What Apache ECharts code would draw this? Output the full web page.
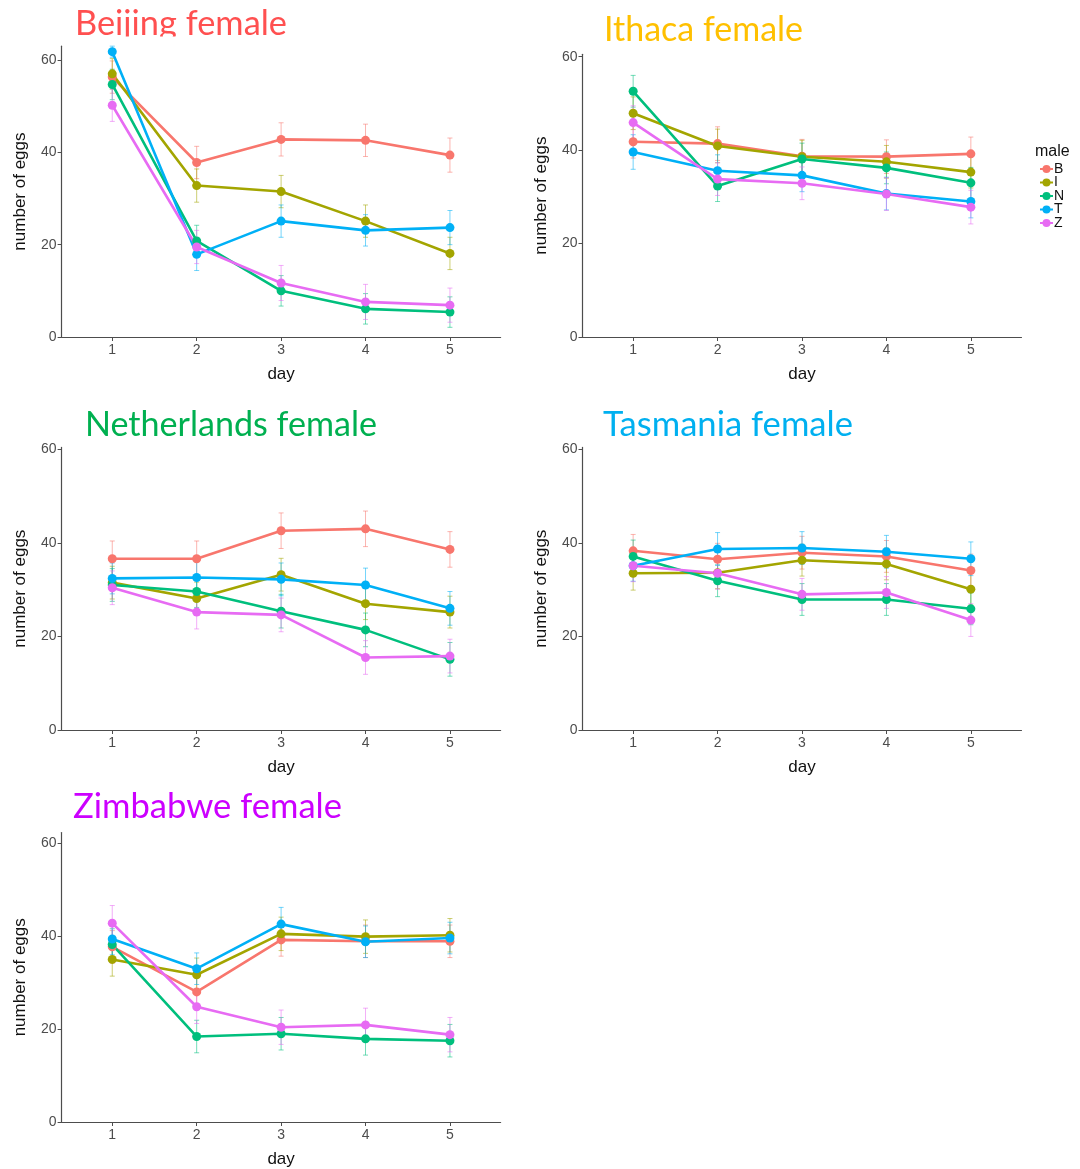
<!DOCTYPE html>
<html><head><meta charset="utf-8">
<script src="https://cdn.jsdelivr.net/npm/echarts@6/dist/echarts.min.js"></script>
<style>html,body{margin:0;padding:0;background:#fff}#c{width:1080px;height:1169px}</style>
</head><body><div id="c"></div>
<script>
// ---------- data ----------
const days = [1, 2, 3, 4, 5];
const males = ['B', 'I', 'N', 'T', 'Z'];
const maleColors = ['#F8766D', '#A3A500', '#00BF7D', '#00B0F6', '#E76BF3'];
const panelTitles = ['Beijing female', 'Ithaca female', 'Netherlands female', 'Tasmania female', 'Zimbabwe female'];
const titleColors = ['#FF5050', '#FFC000', '#00B050', '#00B0F0', '#CC00FF'];
const yTickValues = [0, 20, 40, 60];
const xTickValues = [1, 2, 3, 4, 5];
const yAxisMax = [63, 60.5, 60.4, 60.4, 62.3];

// mean number of eggs, rows = male B, I, N, T, Z ; columns = day 1..5
const beijingMeans = [
  [56.3, 37.8, 42.8, 42.6, 39.4],
  [57.0, 32.8, 31.5, 25.1, 18.1],
  [54.7, 20.8, 10.0, 6.1, 5.4],
  [61.8, 17.9, 25.1, 23.1, 23.7],
  [50.2, 19.5, 11.7, 7.6, 6.9]
];
const beijingErrors = [
  [3.5, 3.5, 3.6, 3.5, 3.7],
  [3.3, 3.6, 3.5, 3.5, 3.5],
  [3.3, 3.4, 3.3, 3.3, 3.3],
  [1.2, 3.5, 3.5, 3.4, 3.7],
  [3.5, 3.6, 3.8, 3.8, 3.7]
];
const ithacaMeans = [
  [41.8, 41.4, 38.7, 38.6, 39.2],
  [47.9, 40.9, 38.6, 37.5, 35.3],
  [52.6, 32.3, 38.1, 36.2, 33.0],
  [39.6, 35.6, 34.6, 30.7, 29.0],
  [45.9, 33.8, 32.9, 30.6, 27.8]
];
const ithacaErrors = [
  [3.5, 3.6, 3.6, 3.6, 3.6],
  [3.5, 3.6, 3.5, 3.5, 3.4],
  [3.4, 3.3, 3.4, 3.4, 3.3],
  [3.7, 3.4, 3.5, 3.5, 3.5],
  [3.6, 3.5, 3.5, 3.5, 3.6]
];
const netherlandsMeans = [
  [36.6, 36.6, 42.6, 43.0, 38.6],
  [31.5, 28.1, 33.2, 27.0, 25.2],
  [31.0, 29.6, 25.4, 21.4, 15.1],
  [32.4, 32.6, 32.2, 31.0, 26.0],
  [30.4, 25.2, 24.6, 15.5, 15.8]
];
const netherlandsErrors = [
  [3.8, 3.8, 3.8, 3.8, 3.8],
  [3.5, 3.5, 3.5, 3.4, 3.4],
  [3.5, 3.4, 3.6, 3.6, 3.6],
  [3.3, 3.4, 3.5, 3.6, 3.6],
  [3.6, 3.6, 3.6, 3.6, 3.6]
];
const tasmaniaMeans = [
  [38.3, 36.5, 37.9, 37.1, 34.1],
  [33.5, 33.6, 36.3, 35.5, 30.1],
  [37.1, 31.9, 27.9, 27.9, 25.9],
  [35.1, 38.7, 38.9, 38.1, 36.6],
  [35.1, 33.5, 29.0, 29.4, 23.5]
];
const tasmaniaErrors = [
  [3.5, 3.4, 3.5, 3.4, 3.5],
  [3.6, 3.4, 3.4, 3.4, 3.4],
  [3.5, 3.4, 3.4, 3.4, 3.4],
  [3.3, 3.5, 3.5, 3.5, 3.6],
  [3.4, 3.4, 3.4, 3.4, 3.5]
];
const zimbabweMeans = [
  [37.7, 28.0, 39.2, 38.9, 38.9],
  [35.0, 31.7, 40.5, 39.9, 40.2],
  [38.2, 18.4, 19.0, 17.9, 17.5],
  [39.4, 33.0, 42.6, 38.8, 39.6],
  [42.8, 24.8, 20.4, 20.9, 18.8]
];
const zimbabweErrors = [
  [3.5, 3.5, 3.5, 3.5, 3.5],
  [3.6, 3.6, 3.6, 3.6, 3.6],
  [3.4, 3.5, 3.5, 3.5, 3.5],
  [3.4, 3.4, 3.6, 3.4, 3.4],
  [3.8, 3.6, 3.7, 3.6, 3.7]
];

// ---------- build ----------
const panelMeans = [beijingMeans, ithacaMeans, netherlandsMeans, tasmaniaMeans, zimbabweMeans];
const panelErrors = [beijingErrors, ithacaErrors, netherlandsErrors, tasmaniaErrors, zimbabweErrors];

const LEFT_X = 61.6, RIGHT_X = 582.5, PW = 439;
const panelGeom = [
  { left: LEFT_X, zero: 337, h60: 277 },
  { left: RIGHT_X, zero: 337, h60: 280.3 },
  { left: LEFT_X, zero: 730, h60: 280.7 },
  { left: RIGHT_X, zero: 730, h60: 280.7 },
  { left: LEFT_X, zero: 1122.7, h60: 279.4 }
];
const titlePos = [
  { x: 75, y: 24, w: 212 },
  { x: 604, y: 30.5, w: 199 },
  { x: 85, y: 425.5, w: 292 },
  { x: 603, y: 425.5, w: 250 },
  { x: 73, y: 807, w: 269 }
];

const grids = [], xAxes = [], yAxes = [], series = [], graphics = [];
const axisCol = '#4D4D4D';
const FONT = '"Liberation Sans", Arial, sans-serif';

panelGeom.forEach((g, p) => {
  const height = g.h60 * yAxisMax[p] / 60;
  grids.push({ left: g.left, top: g.zero - height, width: PW, height: height, containLabel: false });
  xAxes.push({
    type: 'value', gridIndex: p, min: 0.4, max: 5.6,
    name: 'day', nameLocation: 'middle', nameGap: 29,
    nameTextStyle: { fontFamily: FONT, fontSize: 17, color: '#111' },
    axisLine: { show: true, lineStyle: { color: axisCol, width: 1.2 } },
    axisTick: { show: true, length: 4, customValues: xTickValues, lineStyle: { color: axisCol } },
    axisLabel: { customValues: xTickValues, fontFamily: FONT, fontSize: 14, color: axisCol, margin: 6 },
    splitLine: { show: false }
  });
  yAxes.push({
    type: 'value', gridIndex: p, min: 0, max: yAxisMax[p],
    name: 'number of eggs', nameLocation: 'middle', nameGap: 33, nameRotate: 90,
    nameTextStyle: { fontFamily: FONT, fontSize: 17, color: '#111' },
    axisLine: { show: true, lineStyle: { color: axisCol, width: 1.2 } },
    axisTick: { show: true, length: 4, customValues: yTickValues, lineStyle: { color: axisCol } },
    axisLabel: { customValues: yTickValues, fontFamily: FONT, fontSize: 14, color: axisCol, margin: 5 },
    splitLine: { show: false }
  });

  males.forEach((m, k) => {
    const means = panelMeans[p][k];
    const errs = panelErrors[p][k];
    const col = maleColors[k];
    series.push({
      type: 'custom', name: m + '-err', xAxisIndex: p, yAxisIndex: p, z: 2,
      data: days.map((d, i) => [d, means[i], errs[i]]),
      encode: { x: 0, y: 1 },
      silent: true,
      renderItem: function (params, api) {
        const x = api.value(0), v = api.value(1), e = api.value(2);
        const t = api.coord([x, v + e]);
        const b = api.coord([x, v - e]);
        const hw = 2.5;
        const st = { stroke: col, lineWidth: 1, opacity: 0.55 };
        return {
          type: 'group', children: [
            { type: 'line', shape: { x1: t[0], y1: t[1], x2: b[0], y2: b[1] }, style: st },
            { type: 'line', shape: { x1: t[0] - hw, y1: t[1], x2: t[0] + hw, y2: t[1] }, style: st },
            { type: 'line', shape: { x1: b[0] - hw, y1: b[1], x2: b[0] + hw, y2: b[1] }, style: st }
          ]
        };
      }
    });
  });
  males.forEach((m, k) => {
    const means = panelMeans[p][k];
    series.push({
      type: 'line', name: m, xAxisIndex: p, yAxisIndex: p, z: 3,
      data: days.map((d, i) => [d, means[i]]),
      symbol: 'circle', symbolSize: 9, showSymbol: true,
      lineStyle: { width: 2.6, color: maleColors[k] },
      itemStyle: { color: maleColors[k] },
      emphasis: { disabled: true }
    });
  });
});

// titles, scaled horizontally to match measured widths
const ctx = document.createElement('canvas').getContext('2d');
const titleFont = '34px Lato, "Open Sans", sans-serif';
ctx.font = titleFont;
panelTitles.forEach((t, p) => {
  const w = ctx.measureText(t).width || titlePos[p].w;
  graphics.push({
    type: 'text', x: titlePos[p].x, y: titlePos[p].y, scaleX: titlePos[p].w / w, z: 0,
    style: { text: t, font: titleFont, fill: titleColors[p], align: 'left', verticalAlign: 'middle' }
  });
});
// the Beijing title is cut off by the plot panel in the original
graphics.push({ type: 'rect', z: 1, shape: { x: 70, y: 36.5, width: 240, height: 8 }, style: { fill: '#fff' } });
// legend title
graphics.push({ type: 'text', x: 1035, y: 152, z: 5, style: { text: 'male', font: '16px ' + FONT, fill: '#111', align: 'left', verticalAlign: 'middle' } });

const option = {
  backgroundColor: '#fff',
  animation: false,
  grid: grids, xAxis: xAxes, yAxis: yAxes, series: series,
  graphic: graphics,
  legend: {
    data: males, orient: 'vertical', left: 1034, top: 157,
    itemWidth: 13, itemHeight: 10, itemGap: -0.5, selectedMode: false,
    textStyle: { fontFamily: FONT, fontSize: 14, color: '#111', padding: [0, 0, 0, -4] }
  }
};
const chart = echarts.init(document.getElementById('c'), null, { renderer: 'canvas' });
chart.setOption(option);
</script>
</body></html>
